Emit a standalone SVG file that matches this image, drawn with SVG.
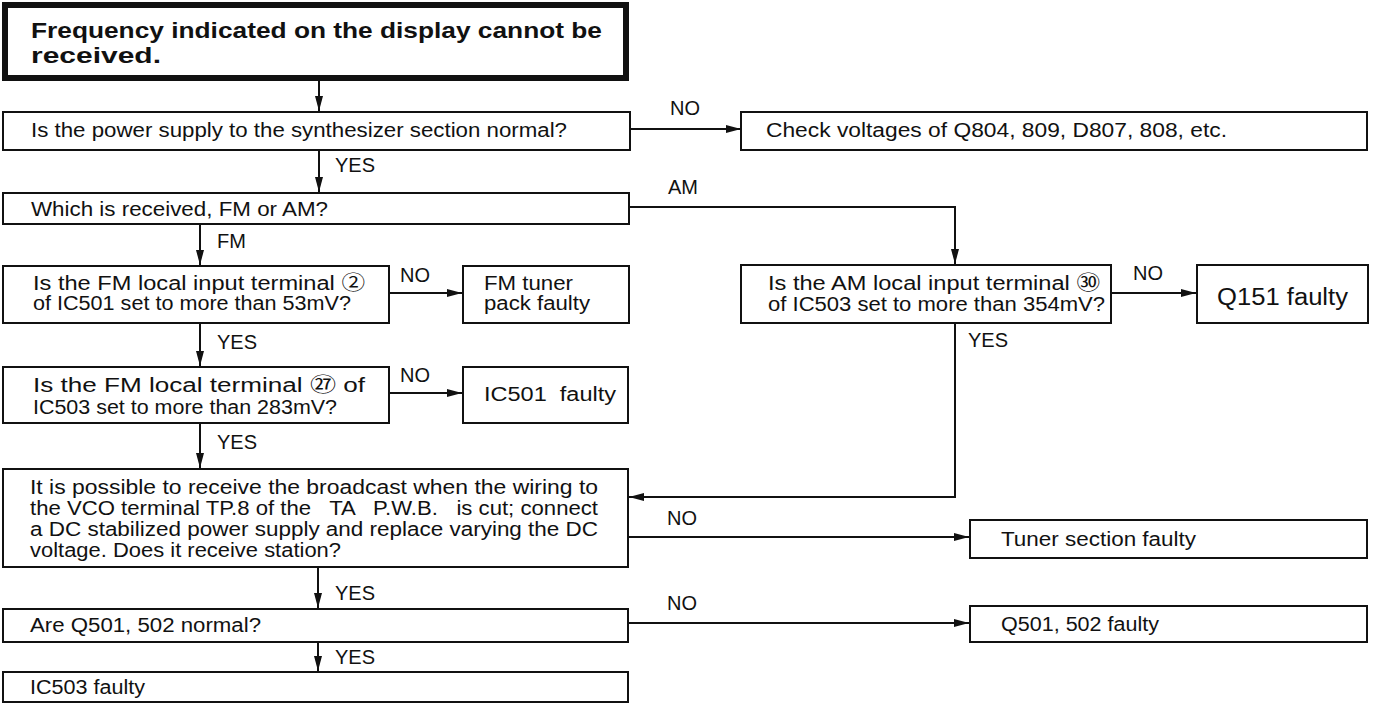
<svg xmlns="http://www.w3.org/2000/svg" width="1379" height="704" viewBox="0 0 1379 704">
<style>
  .box { fill: #ffffff; stroke: #111111; stroke-width: 2; }
  .thick { fill: #ffffff; stroke: #111111; stroke-width: 6; }
  .t { font-family: "Liberation Sans", "Noto Sans CJK JP", sans-serif; font-size: 20px; fill: #111111; white-space: pre; }
  .tb { font-family: "Liberation Sans", "Noto Sans CJK JP", sans-serif; font-size: 22px; font-weight: bold; fill: #111111; }
  .big { font-size: 23px; }
  .lbl { font-family: "Liberation Sans", sans-serif; font-size: 20px; fill: #111111; }
  .ln { fill: none; stroke: #111111; stroke-width: 2; }
</style>
<defs>
  <marker id="ah" markerUnits="userSpaceOnUse" markerWidth="16" markerHeight="10" refX="15" refY="5" orient="auto">
    <path d="M0,1 L15,5 L0,9 Z" fill="#111111"/>
  </marker>
</defs>
<rect width="1379" height="704" fill="#ffffff"/>

<g id="connectors">
  <line class="ln" x1="319" y1="80" x2="319" y2="111" marker-end="url(#ah)"/>
  <line class="ln" x1="630" y1="129" x2="741" y2="129" marker-end="url(#ah)"/>
  <line class="ln" x1="319" y1="150" x2="319" y2="192" marker-end="url(#ah)"/>
  <polyline class="ln" points="629,207 955,207 955,264" marker-end="url(#ah)"/>
  <line class="ln" x1="200" y1="224" x2="200" y2="265" marker-end="url(#ah)"/>
  <line class="ln" x1="389" y1="293" x2="462" y2="293" marker-end="url(#ah)"/>
  <line class="ln" x1="1111" y1="293" x2="1196" y2="293" marker-end="url(#ah)"/>
  <line class="ln" x1="200" y1="323" x2="200" y2="366" marker-end="url(#ah)"/>
  <line class="ln" x1="389" y1="393" x2="462" y2="393" marker-end="url(#ah)"/>
  <polyline class="ln" points="955,323 955,497 629,497" marker-end="url(#ah)"/>
  <line class="ln" x1="200" y1="423" x2="200" y2="468" marker-end="url(#ah)"/>
  <line class="ln" x1="628" y1="537" x2="969" y2="537" marker-end="url(#ah)"/>
  <line class="ln" x1="318" y1="567" x2="318" y2="608" marker-end="url(#ah)"/>
  <line class="ln" x1="628" y1="623" x2="969" y2="623" marker-end="url(#ah)"/>
  <line class="ln" x1="318" y1="642" x2="318" y2="671" marker-end="url(#ah)"/>
  <text class="lbl" x="670" y="115">NO</text>
  <text class="lbl" x="335" y="172">YES</text>
  <text class="lbl" x="668" y="194">AM</text>
  <text class="lbl" x="217" y="248">FM</text>
  <text class="lbl" x="400" y="282">NO</text>
  <text class="lbl" x="1133" y="280">NO</text>
  <text class="lbl" x="968" y="347">YES</text>
  <text class="lbl" x="217" y="349">YES</text>
  <text class="lbl" x="400" y="382">NO</text>
  <text class="lbl" x="217" y="449">YES</text>
  <text class="lbl" x="667" y="525">NO</text>
  <text class="lbl" x="335" y="600">YES</text>
  <text class="lbl" x="667" y="610">NO</text>
  <text class="lbl" x="335" y="664">YES</text>
</g>

<g id="start">
  <rect class="thick" x="5" y="5" width="621" height="73"/>
  <text class="tb" x="31" y="38" textLength="571" lengthAdjust="spacingAndGlyphs">Frequency indicated on the display cannot be</text>
  <text class="tb" x="31" y="63" textLength="130" lengthAdjust="spacingAndGlyphs">received.</text>
</g>

<g id="q-power">
  <rect class="box" x="3" y="112" width="627" height="38"/>
  <text class="t" x="31" y="137" textLength="536" lengthAdjust="spacingAndGlyphs">Is the power supply to the synthesizer section normal?</text>
</g>

<g id="check-voltages">
  <rect class="box" x="741" y="112" width="626" height="38"/>
  <text class="t" x="766" y="137" textLength="461" lengthAdjust="spacingAndGlyphs">Check voltages of Q804, 809, D807, 808, etc.</text>
</g>

<g id="q-fm-am">
  <rect class="box" x="3" y="193" width="626" height="31"/>
  <text class="t" x="31" y="216" textLength="297" lengthAdjust="spacingAndGlyphs">Which is received, FM or AM?</text>
</g>

<g id="q-fm-local-input">
  <rect class="box" x="3" y="266" width="386" height="57"/>
  <text class="t" x="33" y="290" textLength="332" lengthAdjust="spacingAndGlyphs">Is the FM local input terminal ②</text>
  <text class="t" x="33" y="310" textLength="318" lengthAdjust="spacingAndGlyphs">of IC501 set to more than 53mV?</text>
</g>

<g id="fm-tuner-faulty">
  <rect class="box" x="463" y="266" width="166" height="57"/>
  <text class="t" x="484" y="290" textLength="89" lengthAdjust="spacingAndGlyphs">FM tuner</text>
  <text class="t" x="484" y="310" textLength="106" lengthAdjust="spacingAndGlyphs">pack faulty</text>
</g>

<g id="q-am-local-input">
  <rect class="box" x="741" y="265" width="370" height="58"/>
  <text class="t" x="768" y="290" textLength="332" lengthAdjust="spacingAndGlyphs">Is the AM local input terminal ㉚</text>
  <text class="t" x="768" y="311" textLength="337" lengthAdjust="spacingAndGlyphs">of IC503 set to more than 354mV?</text>
</g>

<g id="q151-faulty">
  <rect class="box" x="1197" y="265" width="171" height="58"/>
  <text class="t big" x="1217" y="305" textLength="131" lengthAdjust="spacingAndGlyphs">Q151 faulty</text>
</g>

<g id="q-fm-local">
  <rect class="box" x="3" y="367" width="386" height="56"/>
  <text class="t" x="33" y="392" textLength="332" lengthAdjust="spacingAndGlyphs">Is the FM local terminal ㉗ of</text>
  <text class="t" x="33" y="414" textLength="304" lengthAdjust="spacingAndGlyphs">IC503 set to more than 283mV?</text>
</g>

<g id="ic501-faulty">
  <rect class="box" x="463" y="367" width="165" height="56"/>
  <text class="t" x="484" y="401" textLength="132" lengthAdjust="spacingAndGlyphs">IC501  faulty</text>
</g>

<g id="q-vco">
  <rect class="box" x="3" y="469" width="625" height="98"/>
  <text class="t" x="30" y="494" textLength="568" lengthAdjust="spacingAndGlyphs">It is possible to receive the broadcast when the wiring to</text>
  <text class="t" x="30" y="515" textLength="568" lengthAdjust="spacingAndGlyphs">the VCO terminal TP.8 of the   TA   P.W.B.   is cut; connect</text>
  <text class="t" x="30" y="536" textLength="568" lengthAdjust="spacingAndGlyphs">a DC stabilized power supply and replace varying the DC</text>
  <text class="t" x="30" y="557" textLength="311" lengthAdjust="spacingAndGlyphs">voltage. Does it receive station?</text>
</g>

<g id="tuner-faulty">
  <rect class="box" x="970" y="520" width="397" height="38"/>
  <text class="t" x="1001" y="546" textLength="195" lengthAdjust="spacingAndGlyphs">Tuner section faulty</text>
</g>

<g id="q-q501">
  <rect class="box" x="3" y="609" width="625" height="33"/>
  <text class="t" x="30" y="632" textLength="231" lengthAdjust="spacingAndGlyphs">Are Q501, 502 normal?</text>
</g>

<g id="q501-faulty">
  <rect class="box" x="970" y="606" width="397" height="36"/>
  <text class="t" x="1001" y="631" textLength="158" lengthAdjust="spacingAndGlyphs">Q501, 502 faulty</text>
</g>

<g id="ic503-faulty">
  <rect class="box" x="3" y="672" width="625" height="30"/>
  <text class="t" x="30" y="694" textLength="115" lengthAdjust="spacingAndGlyphs">IC503 faulty</text>
</g>
</svg>
